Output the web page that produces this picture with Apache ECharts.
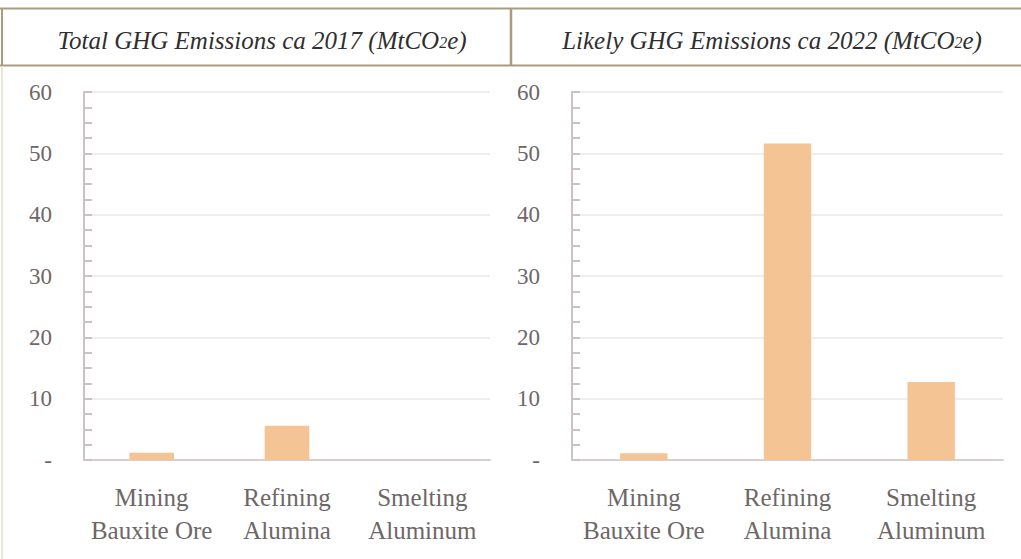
<!DOCTYPE html>
<html>
<head>
<meta charset="utf-8">
<script src="https://cdn.jsdelivr.net/npm/echarts@6/dist/echarts.min.js"></script>
<style>
  html, body { margin: 0; padding: 0; background: #fff; }
  #chart { width: 1021px; height: 559px; }
</style>
</head>
<body>
<div id="chart"></div>
<script>
// values (MtCO2e)
const categories = ['Mining\nBauxite Ore', 'Refining\nAlumina', 'Smelting\nAluminum'];
const emissions2017 = [1.2, 5.6, 0];
const emissions2022 = [1.1, 51.6, 12.7];
const yTicks = [0, 10, 20, 30, 40, 50, 60];
const panelTitles = ['Total GHG Emissions ca 2017 (MtCO{sub|2}e)', 'Likely GHG Emissions ca 2022 (MtCO{sub|2}e)'];

const serif = '"Liberation Serif", "DejaVu Serif", serif';
const border = '#ab9b7c';
const barColor = '#f5c494';
const textGray = '#6e6767';

const chart = echarts.init(document.getElementById('chart'), null, { renderer: 'svg' });

const titleStyle = {
  fontFamily: serif, fontStyle: 'italic', fontSize: 25, color: '#2f2f2f', fontWeight: 'normal',
  rich: { sub: { fontFamily: serif, fontStyle: 'italic', fontSize: 16, color: '#2f2f2f', padding: [4, 0, 0, 0] } }
};

const yAxisFor = (gridIndex) => ({
  type: 'value',
  gridIndex,
  min: yTicks[0],
  max: yTicks[yTicks.length - 1],
  interval: 10,
  axisLine: { show: true, lineStyle: { color: '#cbc3c3', width: 2 } },
  axisTick: { show: true, inside: true, length: 8, lineStyle: { color: '#cbc3c3', width: 2 } },
  minorTick: { show: true, splitNumber: 4, length: 8, lineStyle: { color: '#cbc3c3', width: 2 } },
  splitLine: { lineStyle: { color: '#ebe7e7', width: 1.5 } },
  axisLabel: {
    margin: 32, color: textGray, fontFamily: serif, fontSize: 23,
    formatter: v => (v === 0 ? '-' : String(v))
  }
});

const xAxisFor = (gridIndex) => ({
  type: 'category',
  gridIndex,
  data: categories,
  axisLine: { lineStyle: { color: '#d6cfcf', width: 2 } },
  axisTick: { show: false },
  axisLabel: { margin: 21, color: textGray, fontFamily: serif, fontSize: 25, lineHeight: 33, interval: 0 }
});

const barSeries = (idx, data) => ({
  type: 'bar',
  xAxisIndex: idx,
  yAxisIndex: idx,
  data,
  barWidth: '33%',
  itemStyle: { color: barColor },
  silent: true
});

chart.setOption({
  animation: false,
  title: [
    { text: panelTitles[0], left: 257, top: 23, textAlign: 'center', textStyle: titleStyle },
    { text: panelTitles[1], left: 767, top: 23, textAlign: 'center', textStyle: titleStyle }
  ],
  graphic: [
    { type: 'line', shape: { x1: 0, y1: 8.5, x2: 1021, y2: 8.5 }, style: { stroke: border, lineWidth: 2 } },
    { type: 'line', shape: { x1: 0, y1: 65.5, x2: 1021, y2: 65.5 }, style: { stroke: border, lineWidth: 2 } },
    { type: 'line', shape: { x1: 511, y1: 8, x2: 511, y2: 66 }, style: { stroke: border, lineWidth: 2.5 } },
    { type: 'line', shape: { x1: 2, y1: 8, x2: 2, y2: 66 }, style: { stroke: border, lineWidth: 2 } },
    { type: 'line', shape: { x1: 2, y1: 66, x2: 2, y2: 559 }, style: { stroke: '#e3dcd2', lineWidth: 1.5 } }
  ],
  grid: [
    { left: 84, right: 531, top: 92, bottom: 99 },
    { left: 572, right: 18, top: 92, bottom: 99 }
  ],
  xAxis: [xAxisFor(0), xAxisFor(1)],
  yAxis: [yAxisFor(0), yAxisFor(1)],
  series: [barSeries(0, emissions2017), barSeries(1, emissions2022)]
});
</script>
</body>
</html>
